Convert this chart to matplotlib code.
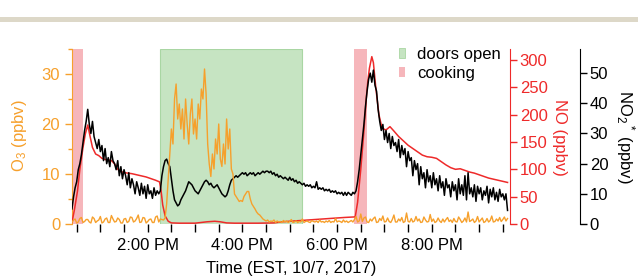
import numpy as np
import matplotlib
matplotlib.use('Agg')
import matplotlib.pyplot as plt
from matplotlib.patches import Patch, Rectangle
from matplotlib.ticker import MultipleLocator, FixedLocator, FuncFormatter

plt.rcParams['font.family'] = ['Liberation Sans', 'DejaVu Sans']
plt.rcParams['mathtext.fontset'] = 'custom'
plt.rcParams['mathtext.rm'] = 'Liberation Sans'
plt.rcParams['mathtext.it'] = 'Liberation Sans:italic'

ORANGE = '#f6a02c'
RED = '#ee2a2a'
GREEN = '#c6e4c2'
PINK = '#f6b6bb'

# time in minutes after midnight, 2 min sampling for NO2* and O3
T0, DT = 744, 2

no2_ppbv = [
    5, 9, 12, 14, 18, 20, 23, 27, 31, 34,
    38, 33, 30, 34, 29, 27, 25, 28, 24, 26,
    21, 25, 20, 22, 19, 24, 21, 20, 18, 21,
    16, 19, 15, 18, 16, 13, 17, 12, 15, 13,
    10, 14, 12, 9.5, 13.5, 10, 12.5, 8.5, 13, 10,
    11, 8.5, 12, 9.5, 11, 10, 11, 16, 19, 21,
    21.5, 20, 19, 15, 11, 8, 7, 6, 6.5, 8,
    9, 10, 11, 12.5, 14, 13.5, 13, 12, 11, 10.5,
    10, 11, 12, 13, 14, 14.5, 14, 13, 13.5, 12.5,
    12, 12.5, 13, 12, 11, 10, 9.5, 9, 9.5, 11,
    13, 14.5, 15, 15.5, 16, 15.5, 16, 16.5, 17, 16.5,
    17, 16, 16.5, 17, 16.5, 17, 16, 16.5, 17, 16.5,
    17, 17.5, 17, 17.5, 17.5, 17, 17.5, 16.5, 17, 16,
    16.5, 15.5, 16, 15.5, 15, 15.5, 15, 14.5, 15.5, 14.5,
    15, 14, 14.5, 13.5, 14, 13.5, 13, 13.5, 12.5, 13,
    12.5, 13, 12, 12.5, 12, 14, 11.5, 12, 11.5, 12,
    11, 11.5, 11, 11.5, 10.5, 11, 10.5, 11, 10, 10.5,
    10, 10.5, 9.5, 10.5, 9.5, 10.5, 10, 9.5, 10.5, 10,
    11, 14, 18, 23, 28, 33, 39, 44, 48, 50,
    47, 51, 46, 44, 38, 34, 31, 33, 28, 31,
    27, 30, 25, 29, 26, 27, 24, 28, 22, 26,
    23, 25, 19, 24, 21, 22, 16, 21, 18, 20,
    13, 19, 15, 17, 12, 18, 14, 16, 12, 17,
    13, 15, 11, 16, 12, 14, 9.5, 15, 12, 13,
    9, 14, 11, 13, 8, 15, 10, 13, 9.5, 16,
    8, 17, 10, 12, 9, 13, 7.5, 12.5, 10, 12,
    8, 11, 9.5, 12.5, 7, 11.5, 9, 12, 8, 10.5,
    7.5, 11.5, 9, 10, 8, 10, 4.5,
]

o3_ppbv = [
    0.3, 0.8, 1.0, 0.2, 0.4, 1.1, 1.3, 0.3, 0.5, 0.9,
    0.9, 0.4, 0.2, 1.4, 1.1, 0.3, 0.6, 0.8, 1.5, 0.2,
    0.4, 1.0, 1.2, 0.3, 0.3, 1.7, 1.0, 0.4, 0.5, 1.2,
    0.9, 0.2, 0.2, 1.0, 1.1, 0.3, 0.5, 1.4, 1.3, 0.4,
    0.6, 1.1, 1.8, 0.3, 0.4, 1.3, 1.2, 0.2, 0.5, 0.9,
    1.0, 0.3, 0.3, 1.4, 1.6, 0.4, 1.0, 0.9, 0.8, 1.2,
    4, 9, 14, 19, 16, 25, 28, 21, 24, 19,
    23, 17, 25, 20, 16, 22, 25, 18, 21, 17,
    24, 21, 27, 25, 31, 26, 16, 12, 9.5, 14,
    11, 17, 14, 20, 13, 11.5, 16, 12, 21, 15,
    19, 11, 10, 6, 5.5, 5, 4.5, 4.7, 4.5, 5.5,
    6, 6.5, 6.5, 5, 4, 3.5, 3, 2.4, 2, 1.8,
    1.4, 1.0, 0.8, 0.6, 0.8, 0.4, 0.6, 0.5, 0.8, 0.3,
    0.6, 0.4, 0.5, 0.3, 0.7, 0.4, 0.6, 0.3, 0.5, 0.9,
    0.3, 0.4, 0.6, 0.3, 0.5, 0.4, 1.0, 0.3, 0.5, 0.6,
    0.4, 0.3, 0.7, 0.5, 0.4, 0.6, 0.3, 0.8, 0.4, 0.5,
    0.3, 0.6, 0.4, 0.7, 0.3, 0.5, 0.4, 1.1, 0.4, 0.6,
    0.5, 0.3, 0.8, 0.4, 0.6, 0.3, 0.5, 0.7, 0.4, 0.9,
    1.5, 0.4, 0.6, 2.0, 0.5, 1.2, 1.4, 0.4, 0.3, 1.0,
    0.6, 1.1, 1.4, 0.3, 0.4, 1.1, 0.7, 1.6, 0.4, 0.5,
    1.2, 0.5, 0.3, 0.9, 1.8, 0.4, 0.4, 1.0, 0.6, 1.3,
    0.3, 0.5, 2.2, 0.5, 0.4, 1.1, 0.4, 0.6, 1.5, 0.6,
    1.0, 0.3, 0.4, 1.4, 0.8, 0.4, 0.5, 1.9, 0.5, 1.0,
    0.3, 0.5, 1.2, 0.6, 0.3, 1.0, 0.4, 0.9, 1.3, 0.5,
    0.8, 0.3, 1.1, 0.5, 0.4, 1.4, 0.9, 0.3, 0.6, 1.2,
    0.4, 2.4, 0.5, 0.7, 1.0, 0.3, 0.6, 1.5, 0.4, 0.8,
    1.2, 0.3, 0.5, 1.1, 0.4, 0.7, 1.6, 0.4, 0.5, 1.0,
    0.6, 1.3, 0.5, 0.9, 1.4, 0.6, 1.1,
]

no_minutes = [
    744, 747, 751, 754, 758, 761, 764, 767, 770, 774, 778, 782, 786, 790, 794, 798, 802, 806, 810, 815,
    820, 826, 832, 838, 844, 850, 855, 857, 859, 862, 866, 870, 880, 900, 915, 925, 932, 940, 950, 980,
    1000, 1010, 1030, 1050, 1070, 1090, 1103, 1106, 1110, 1114, 1117, 1119, 1121, 1124, 1126, 1129, 1133, 1137, 1142, 1147,
    1152, 1158, 1164, 1170, 1176, 1182, 1188, 1194, 1200, 1206, 1212, 1218, 1224, 1230, 1236, 1242, 1248, 1254, 1260, 1266,
    1272, 1278, 1284, 1290, 1296,
]
no_ppbv = [
    3, 25, 60, 100, 140, 165, 181, 160, 140, 128, 125, 120, 118, 117, 116, 110, 100, 96, 94, 93,
    92, 90, 88, 86, 83, 80, 77, 60, 35, 15, 5, 2, 1.5, 1.5, 4, 5, 4, 2, 1.5, 1.5,
    2, 4, 6, 8, 10, 12, 13, 40, 100, 170, 230, 262, 285, 306, 295, 250, 200, 175, 172, 178,
    170, 160, 152, 144, 138, 132, 126, 123, 122, 120, 114, 108, 103, 100, 101, 98, 95, 93, 90, 87,
    84, 82, 80, 78, 76,
]

doors_open = [(856, 1036)]
cooking = [(744, 758), (1102, 1118)]

t_no2 = (T0 + DT * np.arange(len(no2_ppbv))) / 60.0
t_o3 = (T0 + DT * np.arange(len(o3_ppbv))) / 60.0
t_no = np.array(no_minutes) / 60.0

fig = plt.figure(figsize=(6.38, 2.79), dpi=100)
fig.add_artist(Rectangle((0, 1 - 22 / 279), 1, 5 / 279, transform=fig.transFigure,
                         color='#ddd8c8', lw=0))

ax = fig.add_axes([72 / 638, 1 - 224 / 279, 438 / 638, 175 / 279])
for a, b in doors_open:
    ax.axvspan(a / 60, b / 60, facecolor=GREEN, edgecolor='#a9d6a3', lw=0.8, zorder=0)
for a, b in cooking:
    ax.axvspan(a / 60, b / 60, facecolor=PINK, edgecolor='none', zorder=0)

ax.set_xlim(12.401, 21.652)
ax.set_ylim(0, 35)
for s in ['top', 'right', 'bottom']:
    ax.spines[s].set_visible(False)
ax.spines['left'].set_color(ORANGE)
ax.yaxis.set_major_locator(MultipleLocator(10))
ax.yaxis.set_minor_locator(MultipleLocator(5))
ax.tick_params(axis='y', which='major', colors=ORANGE, labelsize=12, length=5, width=1)
ax.tick_params(axis='y', which='minor', colors=ORANGE, length=3, width=1)

ax.xaxis.set_major_locator(FixedLocator([14, 16, 18, 20]))
ax.xaxis.set_minor_locator(MultipleLocator(0.5))
ax.xaxis.set_major_formatter(FuncFormatter(lambda h, p: '%d:00 PM' % (int(round(h)) % 12 or 12)))
ax.tick_params(axis='x', which='both', length=6, width=1, labelsize=12, pad=4)

ax_no = ax.twinx()
for s in ['top', 'left', 'bottom']:
    ax_no.spines[s].set_visible(False)
ax_no.spines['right'].set_color(RED)
ax_no.set_ylim(0, 320)
ax_no.yaxis.set_major_locator(MultipleLocator(50))
ax_no.tick_params(axis='y', colors=RED, labelsize=12, length=5, width=1, pad=2)
ax_no.plot(t_no, no_ppbv, color=RED, lw=1.1)

ax_no2 = ax.twinx()
for s in ['top', 'left', 'bottom']:
    ax_no2.spines[s].set_visible(False)
ax_no2.spines['right'].set_position(('axes', 1.16))
ax_no2.set_ylim(0, 58)
ax_no2.set_yticks([0, 10, 20, 30, 40, 50])
ax_no2.tick_params(axis='y', colors='black', labelsize=12, length=5, width=1, pad=2)
ax_no2.plot(t_no2, no2_ppbv, color='black', lw=1.1)

ax_o3 = ax.twinx()
ax_o3.set_ylim(0, 35)
ax_o3.axis('off')
ax_o3.plot(t_o3, o3_ppbv, color=ORANGE, lw=1.0)

fig.text(20 / 638, 1 - 136 / 279, 'O$_3$ (ppbv)', color=ORANGE, fontsize=12,
         rotation=90, ha='center', va='center')
fig.text(560 / 638, 1 - 137 / 279, 'NO (ppbv)', color=RED, fontsize=12,
         rotation=270, ha='center', va='center')
fig.text(625 / 638, 1 - 137 / 279, 'NO$_2$$^*$ (ppbv)', color='black', fontsize=12,
         rotation=270, ha='center', va='center')
fig.text(291 / 638, 1 - 268 / 279, 'Time (EST, 10/7, 2017)', fontsize=12,
         ha='center', va='center')

handles = [Patch(facecolor=GREEN, edgecolor='#a9d6a3', lw=0.6, label='doors open'),
           Patch(facecolor=PINK, edgecolor='none', label='cooking')]
fig.legend(handles=handles, loc='upper left', bbox_to_anchor=(396 / 638, 1 - 44 / 279),
           frameon=False, fontsize=12, handlelength=0.35, handleheight=0.55,
           handletextpad=0.7, labelspacing=0.2, borderaxespad=0, borderpad=0.2)

fig.savefig('out.png', dpi=100)
